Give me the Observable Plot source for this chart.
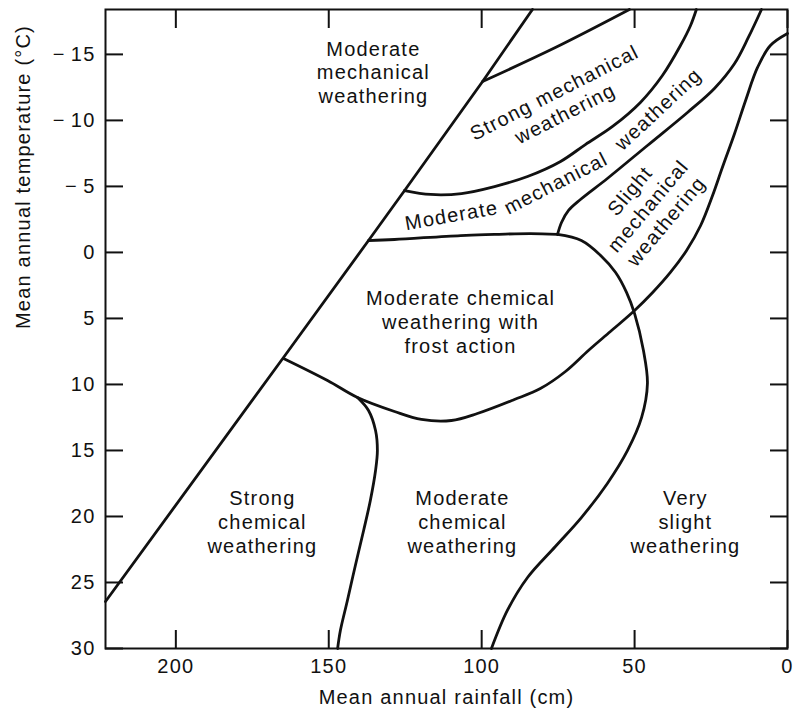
<!DOCTYPE html>
<html>
<head>
<meta charset="utf-8">
<script src="https://cdn.jsdelivr.net/npm/d3@7"></script>
<script src="https://cdn.jsdelivr.net/npm/@observablehq/plot@0.6"></script>
<style>
  body { margin: 0; background: #fff; }
</style>
</head>
<body>
<div id="chart"></div>
<script>
// ---- axes ----
const xTicks = [200, 150, 100, 50, 0];
const yTicks = [-15, -10, -5, 0, 5, 10, 15, 20, 25, 30];
const yTickLabels = ["−\u200915", "−\u200910", "−\u20095", "0", "5", "10", "15", "20", "25", "30"];
const xTitle = "Mean annual rainfall (cm)";
const yTitle = "Mean annual temperature (°C)";

// ---- boundary curves: [rainfall (cm), temperature (°C)] ----
const diagonal = [[223.0, 26.44], [164.8, 7.96], [137.0, -0.90], [125.2, -4.69], [99.7, -12.95], [83.4, -18.4]];
const strongMechTop = [[99.7, -12.95], [75.9, -15.52], [51.7, -18.4]];
const strongMechBottom = [[125.2, -4.69], [116.7, -4.39], [106.6, -4.46], [95.8, -4.99], [85.0, -5.75], [74.2, -6.89],
  [66.1, -8.17], [57.2, -9.54], [48.1, -11.36], [40.9, -13.40], [35.0, -15.67], [31.7, -17.19], [29.8, -18.4]];
const frostTop = [[137.0, -0.90], [128.5, -0.98], [106.9, -1.28], [95.8, -1.36], [84.0, -1.43], [75.2, -1.36]];
const frostRight = [[75.2, -1.36], [67.4, -0.90], [61.1, 0.23], [56.2, 1.52], [52.6, 3.04], [50.0, 4.63], [47.1, 7.43],
  [45.8, 9.93], [47.7, 12.50], [52.3, 15.00], [58.9, 17.50], [67.4, 20.08], [75.9, 22.27], [85.0, 24.62], [91.6, 27.12], [96.8, 30.0]];
const slightTop = [[75.2, -1.36], [73.9, -2.27], [71.6, -3.18], [67.7, -4.01], [58.9, -5.60], [45.8, -8.10], [32.7, -10.60],
  [23.9, -12.42], [17.3, -14.31], [12.8, -16.28], [8.5, -18.4]];
const slightBottom = [[0, -16.58], [5.6, -15.67], [9.8, -14.01], [13.7, -11.51], [17.3, -9.01], [21.3, -6.43], [24.5, -4.31],
  [28.4, -2.04], [33.0, -0.15], [38.3, 1.52], [44.1, 3.04], [50.0, 4.40], [57.9, 5.99], [65.1, 7.43], [72.6, 9.02],
  [80.8, 10.31], [89.3, 11.14], [101.4, 12.20], [109.9, 12.73], [119.7, 12.65], [128.5, 12.05], [140.6, 10.99],
  [150.4, 9.70], [164.8, 8.03]];
const strongChemRight = [[140.6, 10.99], [137.0, 11.97], [134.7, 13.49], [134.1, 15.00], [134.7, 16.52], [136.4, 18.79],
  [138.6, 21.06], [141.3, 23.71], [143.9, 26.36], [146.2, 28.64], [147.1, 30.0]];
const curves = [strongMechTop, strongMechBottom, frostTop, frostRight, slightTop, slightBottom, strongChemRight];

// ---- region labels ----
const labelText = [
  "Moderate\nmechanical\nweathering",
  "Strong mechanical\nweathering",
  "Moderate", "mechanical", "weathering",
  "Slight\nmechanical\nweathering",
  "Moderate chemical\nweathering with\nfrost action",
  "Strong\nchemical\nweathering",
  "Moderate\nchemical\nweathering",
  "Very\nslight\nweathering"
];
const labelRain = [135.4, 74.6, 109.9, 75.9, 42.5, 45.8, 106.9, 171.7, 106.3, 33.4];
const labelTemp = [-13.70, -11.36, -2.87, -5.30, -10.90, -3.55, 5.23, 20.38, 20.38, 20.38];
const labelAngle = [0, -27, -10, -27, -43, -50, 0, 0, 0, 0];
const labels = labelText.map((text, i) => ({text, x: labelRain[i], y: labelTemp[i], angle: labelAngle[i]}));

const font = "'Liberation Sans', Arial, Helvetica, sans-serif";
const ink = "#111";

const chart = Plot.plot({
  width: 794,
  height: 713,
  marginLeft: 105,
  marginRight: 7,
  marginTop: 9,
  marginBottom: 65,
  style: `font-family: ${font}; font-size: 20px; letter-spacing: 1.2px; color: ${ink}; background: #fff;`,
  x: {domain: [223, 0], axis: null},
  y: {domain: [-18.4, 30], reverse: true, axis: null},
  marks: [
    Plot.frame({stroke: ink, strokeWidth: 2}),
    Plot.axisX({anchor: "bottom", ticks: xTicks, tickSize: -18, tickPadding: 28, tickFormat: d => String(d),
      label: null, stroke: ink, fill: ink, strokeWidth: 2, fontSize: 20}),
    Plot.axisX({anchor: "top", ticks: xTicks, tickSize: -18, tickFormat: () => "", label: null, stroke: ink, strokeWidth: 2}),
    Plot.axisY({anchor: "left", ticks: yTicks, tickSize: -18, tickPadding: 28,
      tickFormat: d => yTickLabels[yTicks.indexOf(d)], label: null, stroke: ink, fill: ink, strokeWidth: 2, fontSize: 20}),
    Plot.axisY({anchor: "right", ticks: yTicks, tickSize: -18, tickFormat: () => "", label: null, stroke: ink, strokeWidth: 2}),
    Plot.line(diagonal, {stroke: ink, strokeWidth: 2.8, strokeLinejoin: "round"}),
    ...curves.map(c => Plot.line(c, {stroke: ink, strokeWidth: 2.8, curve: "catmull-rom", strokeLinejoin: "round"})),
    Plot.text(labels, {x: "x", y: "y", text: "text", rotate: "angle", fontSize: 20, lineHeight: 1.18,
      fill: ink, textAnchor: "middle", lineAnchor: "middle"}),
    Plot.text([xTitle], {frameAnchor: "bottom", dy: 49, fontSize: 20, fill: ink, lineAnchor: "middle"}),
    Plot.text([yTitle], {frameAnchor: "left", dx: -82, rotate: -90, fontSize: 20, fill: ink, lineAnchor: "middle"})
  ]
});
document.getElementById("chart").appendChild(chart);
</script>
</body>
</html>
